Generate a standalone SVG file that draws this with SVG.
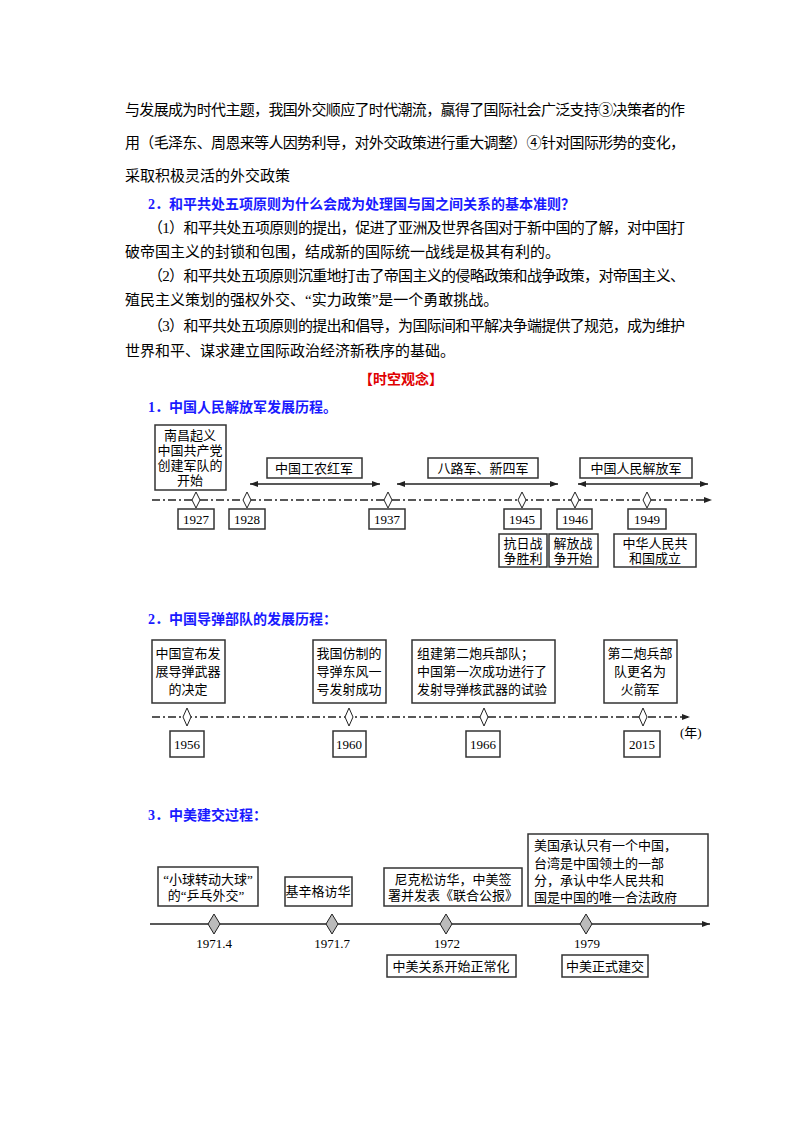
<svg xmlns="http://www.w3.org/2000/svg" width="800" height="1132" viewBox="0 0 800 1132">
<style>
text{font-family:"Liberation Serif","Noto Sans CJK SC",serif;fill:#000}
.p{font-size:15px}
.b{font-size:14px;font-weight:bold;fill:#1a1aff}
.r{font-size:14px;font-weight:bold;fill:#e00000}
.n{font-size:13px}
.y{font-size:13px;text-anchor:middle}
.c{text-anchor:middle}
rect{fill:#fff;stroke:#333;stroke-width:1.5}
.ax{stroke:#222;stroke-width:1.3;fill:none}
.dd{stroke-dasharray:8 3 2 3}
.dm{fill:#fff;stroke:#222;stroke-width:1}
.dg{fill:#bbb;stroke:#222;stroke-width:1}
</style>
<defs>
<marker id="ah" markerWidth="8" markerHeight="6" refX="8" refY="3" orient="auto-start-reverse" markerUnits="userSpaceOnUse"><path d="M0,0L8,3L0,6z" fill="#222"/></marker>
</defs>
<g id="text-top">
<text class="p" x="125" y="115" textLength="560">与发展成为时代主题，我国外交顺应了时代潮流，赢得了国际社会广泛支持③决策者的作</text>
<text class="p" x="125" y="148" textLength="560">用（毛泽东、周恩来等人因势利导，对外交政策进行重大调整）④针对国际形势的变化，</text>
<text class="p" x="125" y="181">采取积极灵活的外交政策</text>
<text class="b" x="148" y="209">2．和平共处五项原则为什么会成为处理国与国之间关系的基本准则？</text>
<text class="p" x="148" y="233" textLength="537">（1）和平共处五项原则的提出，促进了亚洲及世界各国对于新中国的了解，对中国打</text>
<text class="p" x="125" y="257">破帝国主义的封锁和包围，结成新的国际统一战线是极其有利的。</text>
<text class="p" x="148" y="281" textLength="537">（2）和平共处五项原则沉重地打击了帝国主义的侵略政策和战争政策，对帝国主义、</text>
<text class="p" x="125" y="305">殖民主义策划的强权外交、“实力政策”是一个勇敢挑战。</text>
<text class="p" x="148" y="331" textLength="537">（3）和平共处五项原则的提出和倡导，为国际间和平解决争端提供了规范，成为维护</text>
<text class="p" x="125" y="356">世界和平、谋求建立国际政治经济新秩序的基础。</text>
<text class="r c" x="401" y="384">【时空观念】</text>
<text class="b" x="148" y="412">1．中国人民解放军发展历程。</text>
<text class="b" x="148" y="624">2．中国导弹部队的发展历程：</text>
<text class="b" x="148" y="820">3．中美建交过程：</text>
</g>
<g id="connectors">
<line class="ax dd" x1="152" y1="500" x2="712" y2="500" marker-end="url(#ah)"/>
<line class="ax" x1="250" y1="484" x2="380" y2="484" marker-start="url(#ah)" marker-end="url(#ah)"/>
<line class="ax" x1="397" y1="484" x2="558" y2="484" marker-start="url(#ah)" marker-end="url(#ah)"/>
<line class="ax" x1="578" y1="484" x2="708" y2="484" marker-start="url(#ah)" marker-end="url(#ah)"/>
<line class="ax dd" x1="152" y1="717" x2="690" y2="717" marker-end="url(#ah)"/>
<line class="ax" x1="150" y1="924" x2="710" y2="924" marker-end="url(#ah)"/>
<path class="dm" d="M196,492l4,8l-4,8l-4,-8z"/><path class="dm" d="M247,492l4,8l-4,8l-4,-8z"/>
<path class="dm" d="M388,492l4,8l-4,8l-4,-8z"/><path class="dm" d="M522,492l4,8l-4,8l-4,-8z"/>
<path class="dm" d="M575,492l4,8l-4,8l-4,-8z"/><path class="dm" d="M647,492l4,8l-4,8l-4,-8z"/>
<path class="dm" d="M187,708l4,9l-4,9l-4,-9z"/><path class="dm" d="M349,708l4,9l-4,9l-4,-9z"/>
<path class="dm" d="M484,708l4,9l-4,9l-4,-9z"/><path class="dm" d="M643,708l4,9l-4,9l-4,-9z"/>
<path class="dg" d="M214,914l6,10l-6,10l-6,-10z"/><path class="dg" d="M332,914l6,10l-6,10l-6,-10z"/>
<path class="dg" d="M446,914l6,10l-6,10l-6,-10z"/><path class="dg" d="M586,914l6,10l-6,10l-6,-10z"/>
</g>
<g id="n1927e"><rect x="155" y="425" width="71" height="65"/><text class="n c" x="190" y="440">南昌起义</text><text class="n c" x="190" y="455">中国共产党</text><text class="n c" x="190" y="470">创建军队的</text><text class="n c" x="190" y="485">开始</text></g>
<g id="nred"><rect x="267" y="458" width="95" height="20"/><text class="n c" x="314" y="473">中国工农红军</text></g>
<g id="n8"><rect x="428" y="458" width="110" height="20"/><text class="n c" x="483" y="473">八路军、新四军</text></g>
<g id="npla"><rect x="580" y="458" width="112" height="20"/><text class="n c" x="636" y="473">中国人民解放军</text></g>
<g id="y1927"><rect x="178" y="509" width="36" height="20"/><text class="y" x="196" y="524">1927</text></g>
<g id="y1928"><rect x="229" y="509" width="36" height="20"/><text class="y" x="247" y="524">1928</text></g>
<g id="y1937"><rect x="369" y="509" width="36" height="20"/><text class="y" x="387" y="524">1937</text></g>
<g id="y1945"><rect x="504" y="509" width="37" height="20"/><text class="y" x="522" y="524">1945</text></g>
<g id="y1946"><rect x="557" y="509" width="35" height="20"/><text class="y" x="575" y="524">1946</text></g>
<g id="y1949"><rect x="628" y="509" width="38" height="20"/><text class="y" x="647" y="524">1949</text></g>
<g id="e1945"><rect x="499" y="534" width="48" height="33"/><text class="n c" x="523" y="548">抗日战</text><text class="n c" x="523" y="563">争胜利</text></g>
<g id="e1946"><rect x="549" y="534" width="49" height="33"/><text class="n c" x="573" y="548">解放战</text><text class="n c" x="573" y="563">争开始</text></g>
<g id="e1949"><rect x="614" y="534" width="82" height="33"/><text class="n c" x="655" y="548">中华人民共</text><text class="n c" x="655" y="563">和国成立</text></g>

<g id="m1956"><rect x="152" y="640" width="73" height="63"/><text class="n c" x="188" y="658">中国宣布发</text><text class="n c" x="188" y="676">展导弹武器</text><text class="n c" x="188" y="694">的决定</text></g>
<g id="m1960"><rect x="313" y="640" width="73" height="63"/><text class="n c" x="349" y="658">我国仿制的</text><text class="n c" x="349" y="676">导弹东风一</text><text class="n c" x="349" y="694">号发射成功</text></g>
<g id="m1966"><rect x="412" y="640" width="143" height="63"/><text class="n" x="417" y="658">组建第二炮兵部队；</text><text class="n" x="417" y="676">中国第一次成功进行了</text><text class="n" x="417" y="694">发射导弹核武器的试验</text></g>
<g id="m2015"><rect x="604" y="640" width="73" height="63"/><text class="n c" x="640" y="658">第二炮兵部</text><text class="n c" x="640" y="676">队更名为</text><text class="n c" x="640" y="694">火箭军</text></g>
<g id="y1956"><rect x="170" y="731" width="34" height="26"/><text class="y" x="187" y="749">1956</text></g>
<g id="y1960"><rect x="333" y="731" width="33" height="26"/><text class="y" x="349" y="749">1960</text></g>
<g id="y1966"><rect x="466" y="731" width="34" height="26"/><text class="y" x="483" y="749">1966</text></g>
<g id="y2015"><rect x="624" y="731" width="36" height="26"/><text class="y" x="642" y="749">2015</text></g>
<text class="n" x="680" y="737">(年)</text>

<g id="u1"><rect x="158" y="867" width="100" height="39"/><text class="n c" x="208" y="884">“小球转动大球”</text><text class="n c" x="206" y="900">的“乒乓外交”</text></g>
<g id="u2"><rect x="285" y="877" width="67" height="29"/><text class="n c" x="318" y="896">基辛格访华</text></g>
<g id="u3"><rect x="384" y="868" width="138" height="38"/><text class="n c" x="453" y="884">尼克松访华，中美签</text><text class="n c" x="453" y="900">署并发表《联合公报》</text></g>
<g id="u4"><rect x="528" y="834" width="180" height="72"/><text class="n" x="534" y="850">美国承认只有一个中国，</text><text class="n" x="534" y="868">台湾是中国领土的一部</text><text class="n" x="534" y="885">分，承认中华人民共和</text><text class="n" x="534" y="902">国是中国的唯一合法政府</text></g>
<text class="y" x="214" y="948">1971.4</text>
<text class="y" x="332" y="948">1971.7</text>
<text class="y" x="447" y="948">1972</text>
<text class="y" x="587" y="948">1979</text>
<g id="l1972"><rect x="387" y="955" width="129" height="22"/><text class="n c" x="451" y="971">中美关系开始正常化</text></g>
<g id="l1979"><rect x="562" y="955" width="86" height="22"/><text class="n c" x="605" y="971">中美正式建交</text></g>
</svg>
